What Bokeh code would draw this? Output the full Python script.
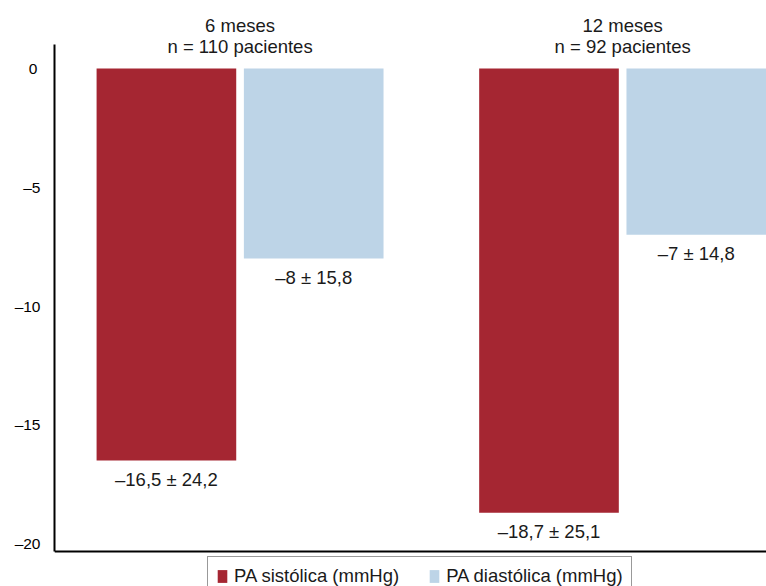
from bokeh.plotting import figure
from bokeh.models import (Range1d, FixedTicker, Legend, LegendItem, ColumnDataSource, Span)
from bokeh.core.properties import value
from bokeh.embed import file_html
from bokeh.resources import INLINE

# ---- data ----
groups = ["6 meses", "12 meses"]
group_n = ["n = 110 pacientes", "n = 92 pacientes"]
sistolica = [-16.5, -18.7]
sistolica_sd = [24.2, 25.1]
diastolica = [-8.0, -7.0]
diastolica_sd = [15.8, 14.8]
series_names = ["PA sistólica (mmHg)", "PA diastólica (mmHg)"]
y_ticks = [0, -5, -10, -15, -20]

RED = "#A52632"
BLUE = "#BDD4E7"
FONT = "Liberation Sans"
TXT = "#1a1a1a"

Y_TOP, Y_BOT = 2.863, -21.81
AXIS_TOP, AXIS_BOT = 1.01, -20.34


def fmt(v):
    s = ("%g" % abs(v)).replace(".", ",")
    return ("\u2013" if v < 0 else "") + s


def lab(v, sd):
    return f"{fmt(v)} \u00b1 {fmt(sd)}"


p = figure(width=766, height=586, output_backend="svg", toolbar_location=None,
           x_range=Range1d(-0.485, 1.376), y_range=Range1d(Y_BOT, Y_TOP),
           min_border_left=54, min_border_right=0, min_border_top=0,
           min_border_bottom=0)
p.outline_line_color = None
p.grid.visible = False
p.background_fill_color = "white"
p.border_fill_color = "white"
p.xaxis.visible = False

xg = list(range(len(groups)))
off = 0.1925
bw = 0.365
src_s = ColumnDataSource(dict(x=[g - off for g in xg], top=[0] * len(xg), bottom=sistolica,
                              lab=[lab(v, s) for v, s in zip(sistolica, sistolica_sd)]))
src_d = ColumnDataSource(dict(x=[g + off for g in xg], top=[0] * len(xg), bottom=diastolica,
                              lab=[lab(v, s) for v, s in zip(diastolica, diastolica_sd)]))
r1 = p.vbar(x="x", top="top", bottom="bottom", width=bw, source=src_s,
            fill_color=RED, line_color=None)
r2 = p.vbar(x="x", top="top", bottom="bottom", width=bw, source=src_d,
            fill_color=BLUE, line_color=None)

for src in (src_s, src_d):
    p.text(x="x", y="bottom", text="lab", source=src, text_font=value(FONT),
           text_font_size="18.5px", text_color=TXT, text_align="center",
           text_baseline="middle", y_offset=19)

# group titles
p.text(x=xg, y=[0] * len(xg), text=groups, text_font=value(FONT), text_font_size="18.5px",
       text_color=TXT, text_align="center", text_baseline="middle", y_offset=-43)
p.text(x=xg, y=[0] * len(xg), text=group_n, text_font=value(FONT), text_font_size="18.5px",
       text_color=TXT, text_align="center", text_baseline="middle", y_offset=-22)

# axes
ya = p.yaxis[0]
ya.ticker = FixedTicker(ticks=y_ticks)
ya.major_label_overrides = {t: (fmt(t) if t != 0 else "0\u2009") for t in y_ticks}
ya.major_tick_line_color = None
ya.minor_tick_line_color = None
ya.major_tick_out = 0
ya.major_tick_in = 0
ya.major_label_standoff = 14
ya.axis_line_width = 2
ya.axis_line_color = "black"
ya.bounds = (AXIS_BOT, AXIS_TOP)
ya.major_label_text_font = FONT
ya.major_label_text_font_size = "15.5px"
ya.major_label_text_color = "black"

# bottom axis line
p.add_layout(Span(location=AXIS_BOT, dimension="width", line_color="black", line_width=2))

legend = Legend(items=[LegendItem(label=series_names[0], renderers=[r1]),
                       LegendItem(label=series_names[1], renderers=[r2])],
                orientation="horizontal", location=(153, -10),
                label_text_font=FONT, label_text_font_size="18.5px", label_text_color=TXT,
                glyph_width=12, glyph_height=16, label_standoff=6, spacing=29,
                padding=8, margin=0, border_line_color="#333333", border_line_width=1,
                background_fill_alpha=1.0)
p.add_layout(legend)

open("out.html", "w").write(file_html(p, INLINE))
